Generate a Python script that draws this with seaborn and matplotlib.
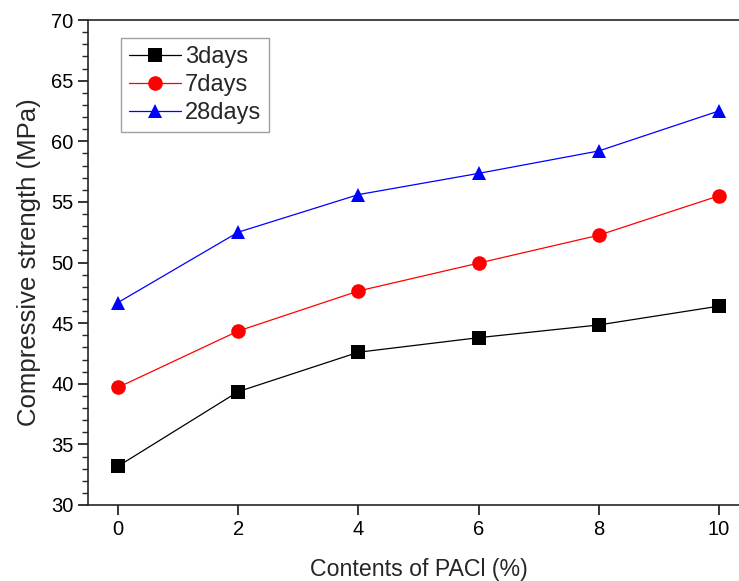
import numpy as np
import pandas as pd
import seaborn as sns
import matplotlib.pyplot as plt
from matplotlib.ticker import MultipleLocator

# PACl content (%) and compressive strength (MPa) per curing age
contents = [0, 2, 4, 6, 8, 10]
days3 = [33.2, 39.35, 42.6, 43.8, 44.85, 46.4]
days7 = [39.7, 44.35, 47.65, 49.95, 52.25, 55.5]
days28 = [46.7, 52.5, 55.6, 57.35, 59.2, 62.5]
ages = ["3days", "7days", "28days"]

df = pd.DataFrame({
  "content": contents * 3,
  "strength": days3 + days7 + days28,
  "age": np.repeat(ages, len(contents)),
})

sns.set_style("ticks")
plt.rcParams["font.family"] = ["Liberation Sans", "DejaVu Sans"]

fig = plt.figure(figsize=(7.39, 5.81), dpi=100)
# right edge of the axes runs past the picture, as in the reference
ax = fig.add_axes([88/739, 76/581, 661/739, 485/581])

sns.lineplot(
  data    = df,
  x       = "content",
  y       = "strength",
  hue     = "age",
  style   = "age",
  palette = {"3days": "black", "7days": "#ff0000", "28days": "#0000ff"},
  markers = {"3days": "s", "7days": "o", "28days": "^"},
  dashes  = False,
  linewidth = 0.9,
  markersize = 10.5,
  markeredgewidth = 0,
  ax      = ax,
)

ax.set_xlim(-0.5, 10.5)
ax.set_ylim(30, 70)
ax.set_xticks(contents)
ax.yaxis.set_major_locator(MultipleLocator(5))
ax.yaxis.set_minor_locator(MultipleLocator(1))
ax.tick_params(axis="both", which="major", direction="out", length=7, width=1.1, labelsize=14.5, colors="black")
ax.tick_params(axis="y", which="minor", direction="out", length=4, width=1.0)
for sp in ax.spines.values():
  sp.set_linewidth(1.2)
ax.spines["right"].set_visible(False)

ax.set_xlabel("Contents of PACl (%)", fontsize=16.7, labelpad=14)
ax.set_ylabel("Compressive strength (MPa)", fontsize=18.5, labelpad=7)

leg = ax.legend(
  loc = "upper left",
  bbox_to_anchor = (0.05, 0.963),
  fontsize = 17,
  frameon = True,
  fancybox = False,
  handlelength = 2.2,
  handletextpad = 0.15,
  borderpad = 0.35,
  labelspacing = 0.25,
  borderaxespad = 0,
)
leg.get_frame().set_edgecolor("#888888")
leg.get_frame().set_linewidth(1.0)

fig.savefig("out.png", dpi=100)
